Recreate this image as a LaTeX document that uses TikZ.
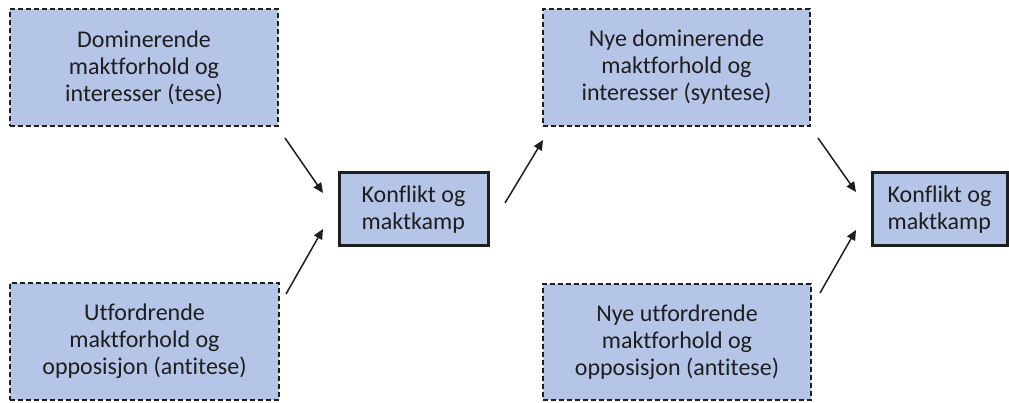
\documentclass[tikz,border=0pt]{standalone}
\usepackage{fontspec}
\setmainfont[Ligatures=NoCommon]{Carlito}
\usetikzlibrary{arrows.meta}
\definecolor{boxfill}{HTML}{B4C5E8}
\definecolor{edge}{HTML}{1E1E1E}
\tikzset{
  every node/.style={inner sep=0pt, outer sep=0pt, text=edge,
    font=\fontsize{24}{27}\selectfont},
  idea/.style={draw=edge, fill=boxfill, line width=1.8pt,
    dash pattern=on 5pt off 3pt, align=center},
  clash/.style={draw=edge, fill=boxfill, line width=3pt, align=left},
  arr/.style={draw=edge, line width=1.5pt,
    -{Triangle[length=10pt,width=9pt]}}
}
\begin{document}
\begin{tikzpicture}[x=1pt,y=-1pt]
\useasboundingbox (0,0) rectangle (1009,403);

% thesis / antithesis, first round
\node[idea, minimum width=268pt, minimum height=117pt] (b1) at (144,67.5)
  {Dominerende\\maktforhold og\\interesser (tese)};
\node[idea, minimum width=269pt, minimum height=117pt] (b2) at (144.5,341.5)
  {Utfordrende\\maktforhold og\\opposisjon (antitese)};
\node[clash, minimum width=149pt, minimum height=73pt] (k1) at (413.5,209.5)
  {Konflikt og\\maktkamp};

% synthesis and the next round
\node[idea, minimum width=267pt, minimum height=117pt] (b3) at (676.5,67.5)
  {Nye dominerende\\maktforhold og\\interesser (syntese)};
\node[idea, minimum width=268pt, minimum height=116pt] (b4) at (677,342)
  {Nye utfordrende\\maktforhold og\\opposisjon (antitese)};
\node[clash, minimum width=135pt, minimum height=73pt] (k2) at (939.5,209.5)
  {Konflikt og\\maktkamp};

% connectors
\draw[arr] ([shift={(7,12)}]b1.south east) -- ([shift={(-16,20)}]k1.north west);
\draw[arr] ([shift={(7,11)}]b2.north east) -- ([shift={(-16,-17)}]k1.south west);
\draw[arr] ([shift={(17,-6.5)}]k1.east) -- ([shift={(0,14)}]b3.south west);
\draw[arr] ([shift={(8,12)}]b3.south east) -- ([shift={(-16,19)}]k2.north west);
\draw[arr] ([shift={(9,9)}]b4.north east) -- ([shift={(-16,-16)}]k2.south west);
\end{tikzpicture}
\end{document}
